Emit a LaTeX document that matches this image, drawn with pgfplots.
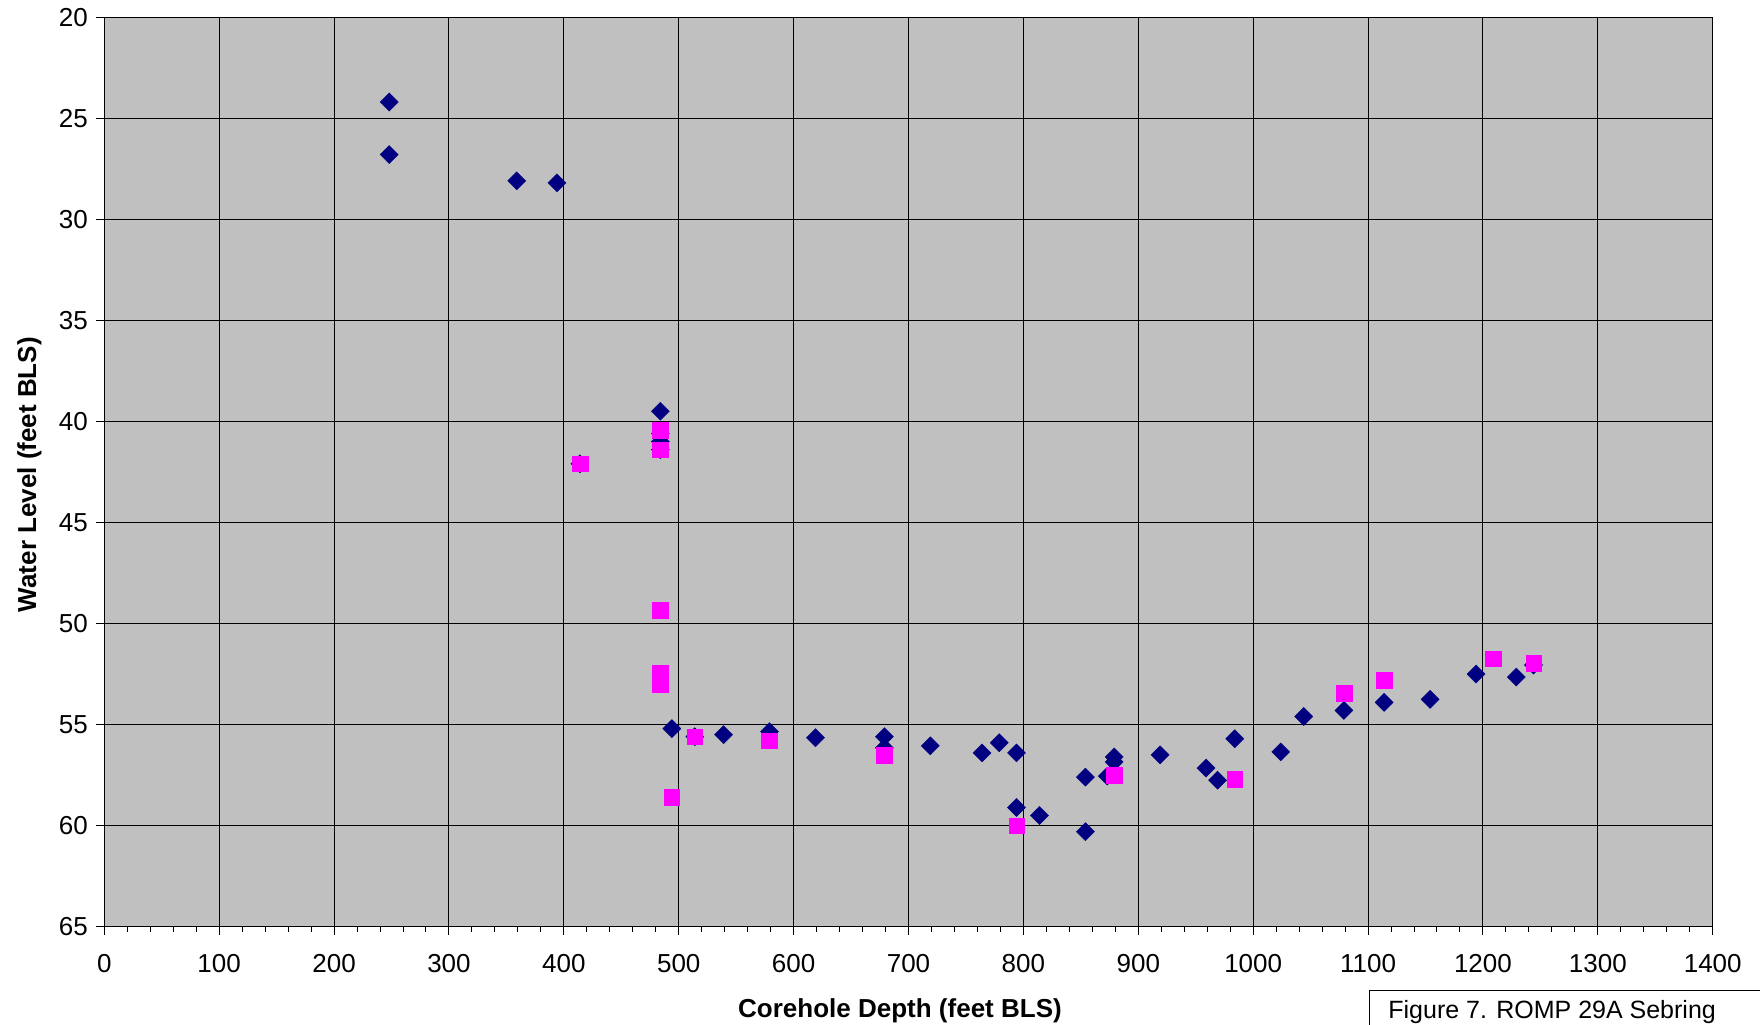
\documentclass[border=0pt]{standalone}
\usepackage{pgfplots}
\pgfplotsset{compat=1.18}
\usepackage{fontspec}
\setmainfont{Liberation Sans}
\definecolor{plotbg}{HTML}{C0C0C0}
\definecolor{navyd}{HTML}{000080}
\definecolor{magp}{HTML}{FF00FF}
\begin{document}
\begin{tikzpicture}
\useasboundingbox (0,0) rectangle (880pt,512pt);
\begin{axis}[
  at={(52.15pt,48.65pt)}, anchor=south west,
  scale only axis, width=804.2pt, height=454.8pt,
  xmin=0, xmax=1400, ymin=20, ymax=65,
  y dir=reverse,
  xtick={0,100,...,1400}, ytick={20,25,...,65},
  minor x tick num=4,
  tick align=outside,
  major tick length=4pt, minor tick length=2.5pt,
  xtick pos=bottom, ytick pos=left,
  grid=major,
  major grid style={black, line width=0.5pt},
  axis line style={black, line width=0.6pt},
  every tick/.style={black, line width=0.5pt},
  axis background/.style={fill=plotbg},
  /pgf/number format/assume math mode=true,
  /pgf/number format/1000 sep={},
  tick label style={font=\fontsize{13}{15}\selectfont},
  xticklabel style={anchor=north, inner sep=0pt, yshift=-9.8pt},
  yticklabel style={anchor=east, inner sep=0pt, xshift=-4pt},
  xlabel={Corehole Depth (feet BLS)},
  ylabel={Water Level (feet BLS)},
  label style={font=\fontsize{13}{15}\selectfont\bfseries},
  xlabel style={at={(axis description cs:0.4947,-0.0919)}, anchor=center},
  ylabel style={at={(axis description cs:-0.0466,0.497)}, anchor=center},
  clip=false,
]
\addplot[only marks, mark=square*, mark size=3.2pt,
  mark options={rotate=45, fill=navyd, draw=navyd, line width=0.2pt}]
  coordinates {
  (248,24.2) (248,26.8) (359,28.1) (394,28.2) (414,42.1)
  (484,39.5) (484,40.6) (484,41.0) (484,41.4)
  (494,55.2) (514,55.6) (539,55.5) (579,55.35) (619,55.65)
  (679,55.6) (679,56.15) (719,56.05) (764,56.4) (779,55.9)
  (794,56.4) (794,59.1) (814,59.5) (854,57.6) (854,60.3)
  (873,57.55) (879,56.6) (879,56.85) (919,56.5) (959,57.15)
  (969,57.75) (984,55.7) (1024,56.35) (1044,54.6) (1079,54.3)
  (1114,53.9) (1154,53.75) (1194,52.5) (1229,52.65) (1244,52.05)
  };
\addplot[only marks, mark=square*, mark size=3.9pt,
  mark options={fill=magp, draw=magp, line width=0.2pt}]
  coordinates {
  (414,42.1) (484,40.45) (484,41.4) (484,49.35) (484,52.45) (484,53.0)
  (494,58.6) (514,55.6) (579,55.8) (679,56.5) (794,60.0) (879,57.5)
  (984,57.7) (1079,53.45) (1114,52.8) (1209,51.75) (1244,51.95)
  };
\end{axis}
\draw[black, line width=0.5pt] (684.65pt,-10pt) -- (684.65pt,16.65pt) -- (900pt,16.65pt);
\node[anchor=base west, inner sep=0pt, font=\fontsize{12.5}{14}\selectfont] at (694pt,3pt) {Figure 7. ROMP 29A Sebring};
\end{tikzpicture}
\end{document}
